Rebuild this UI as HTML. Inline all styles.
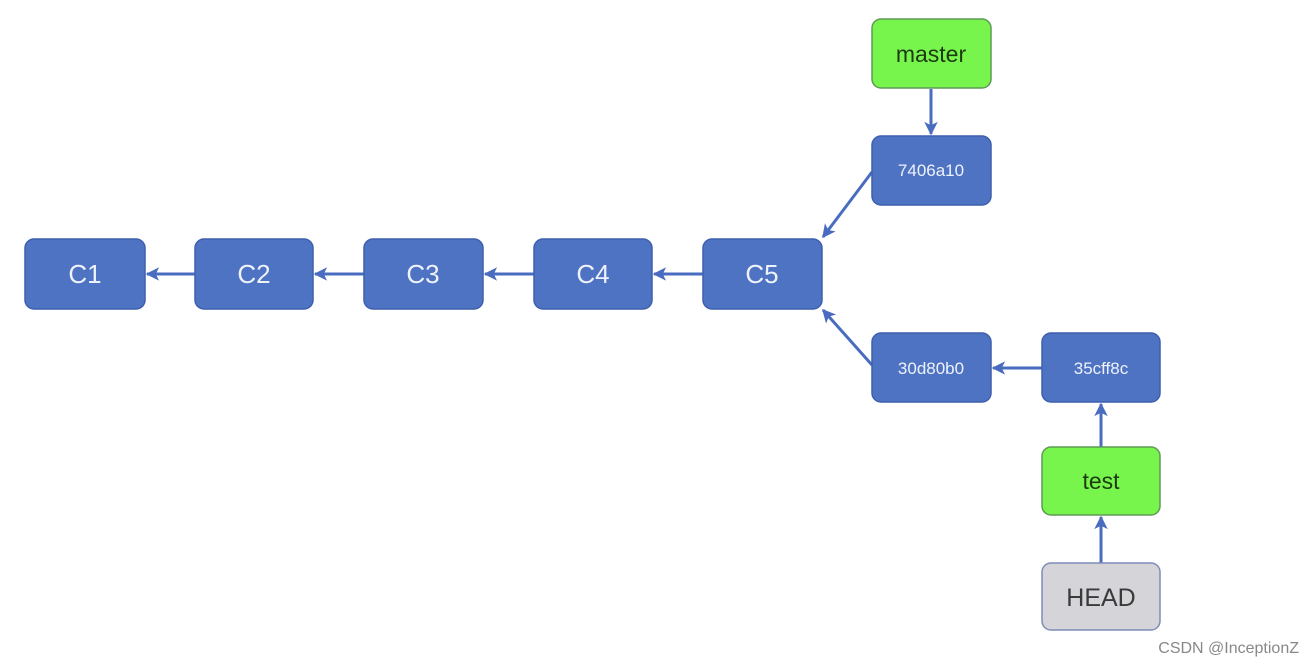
<!DOCTYPE html>
<html><head><meta charset="utf-8"><style>
html,body{margin:0;padding:0;background:#fff;}
svg{display:block;}
text{font-family:"Liberation Sans","DejaVu Sans",sans-serif;}
</style></head><body>
<svg width="1314" height="666" viewBox="0 0 1314 666" xmlns="http://www.w3.org/2000/svg">
<defs>
<marker id="a" viewBox="0 0 10 10" refX="9" refY="5" markerWidth="4.5" markerHeight="4.5" orient="auto" markerUnits="strokeWidth">
<path d="M0,0 L10,5 L0,10 L2.5,5 Z" fill="#4a6cc0"/>
</marker>
</defs>
<g stroke="#4a6cc0" stroke-width="3" fill="none" marker-end="url(#a)">
<line x1="195" y1="274" x2="147" y2="274"/>
<line x1="364" y1="274" x2="315" y2="274"/>
<line x1="534" y1="274" x2="485" y2="274"/>
<line x1="703" y1="274" x2="654" y2="274"/>
<line x1="931" y1="89" x2="931" y2="134"/>
<line x1="872" y1="172" x2="823" y2="237"/>
<line x1="872" y1="365" x2="823" y2="310"/>
<line x1="1042" y1="368" x2="993" y2="368"/>
<line x1="1101" y1="447" x2="1101" y2="404"/>
<line x1="1101" y1="563" x2="1101" y2="517"/>
</g>
<g fill="#4f73c3" stroke="#3d5fae" stroke-width="1.5">
<rect x="25" y="239" width="120" height="70" rx="9"/>
<rect x="195" y="239" width="118" height="70" rx="9"/>
<rect x="364" y="239" width="119" height="70" rx="9"/>
<rect x="534" y="239" width="118" height="70" rx="9"/>
<rect x="703" y="239" width="119" height="70" rx="9"/>
<rect x="872" y="136" width="119" height="69" rx="9"/>
<rect x="872" y="333" width="119" height="69" rx="9"/>
<rect x="1042" y="333" width="118" height="69" rx="9"/>
</g>
<g fill="#77f54c" stroke="#5f9a55" stroke-width="1.5">
<rect x="872" y="19" width="119" height="69" rx="9"/>
<rect x="1042" y="447" width="118" height="68" rx="9"/>
</g>
<rect x="1042" y="563" width="118" height="67" rx="9" fill="#d5d5d9" stroke="#7f8cb8" stroke-width="1.5"/>
<g fill="#eef2fa" font-size="26" text-anchor="middle">
<text x="85" y="283">C1</text>
<text x="254" y="283">C2</text>
<text x="423" y="283">C3</text>
<text x="593" y="283">C4</text>
<text x="762" y="283">C5</text>
</g>
<g fill="#eef2fa" font-size="17" text-anchor="middle">
<text x="931" y="176">7406a10</text>
<text x="931" y="374">30d80b0</text>
<text x="1101" y="374">35cff8c</text>
</g>
<g fill="#1d3a12" font-size="23" text-anchor="middle">
<text x="931" y="62">master</text>
<text x="1101" y="489">test</text>
</g>
<text x="1101" y="606" fill="#3a3a3a" font-size="25" text-anchor="middle">HEAD</text>
<text x="1299" y="653" fill="#888" font-size="16" text-anchor="end">CSDN @InceptionZ</text>
</svg>
</body></html>
